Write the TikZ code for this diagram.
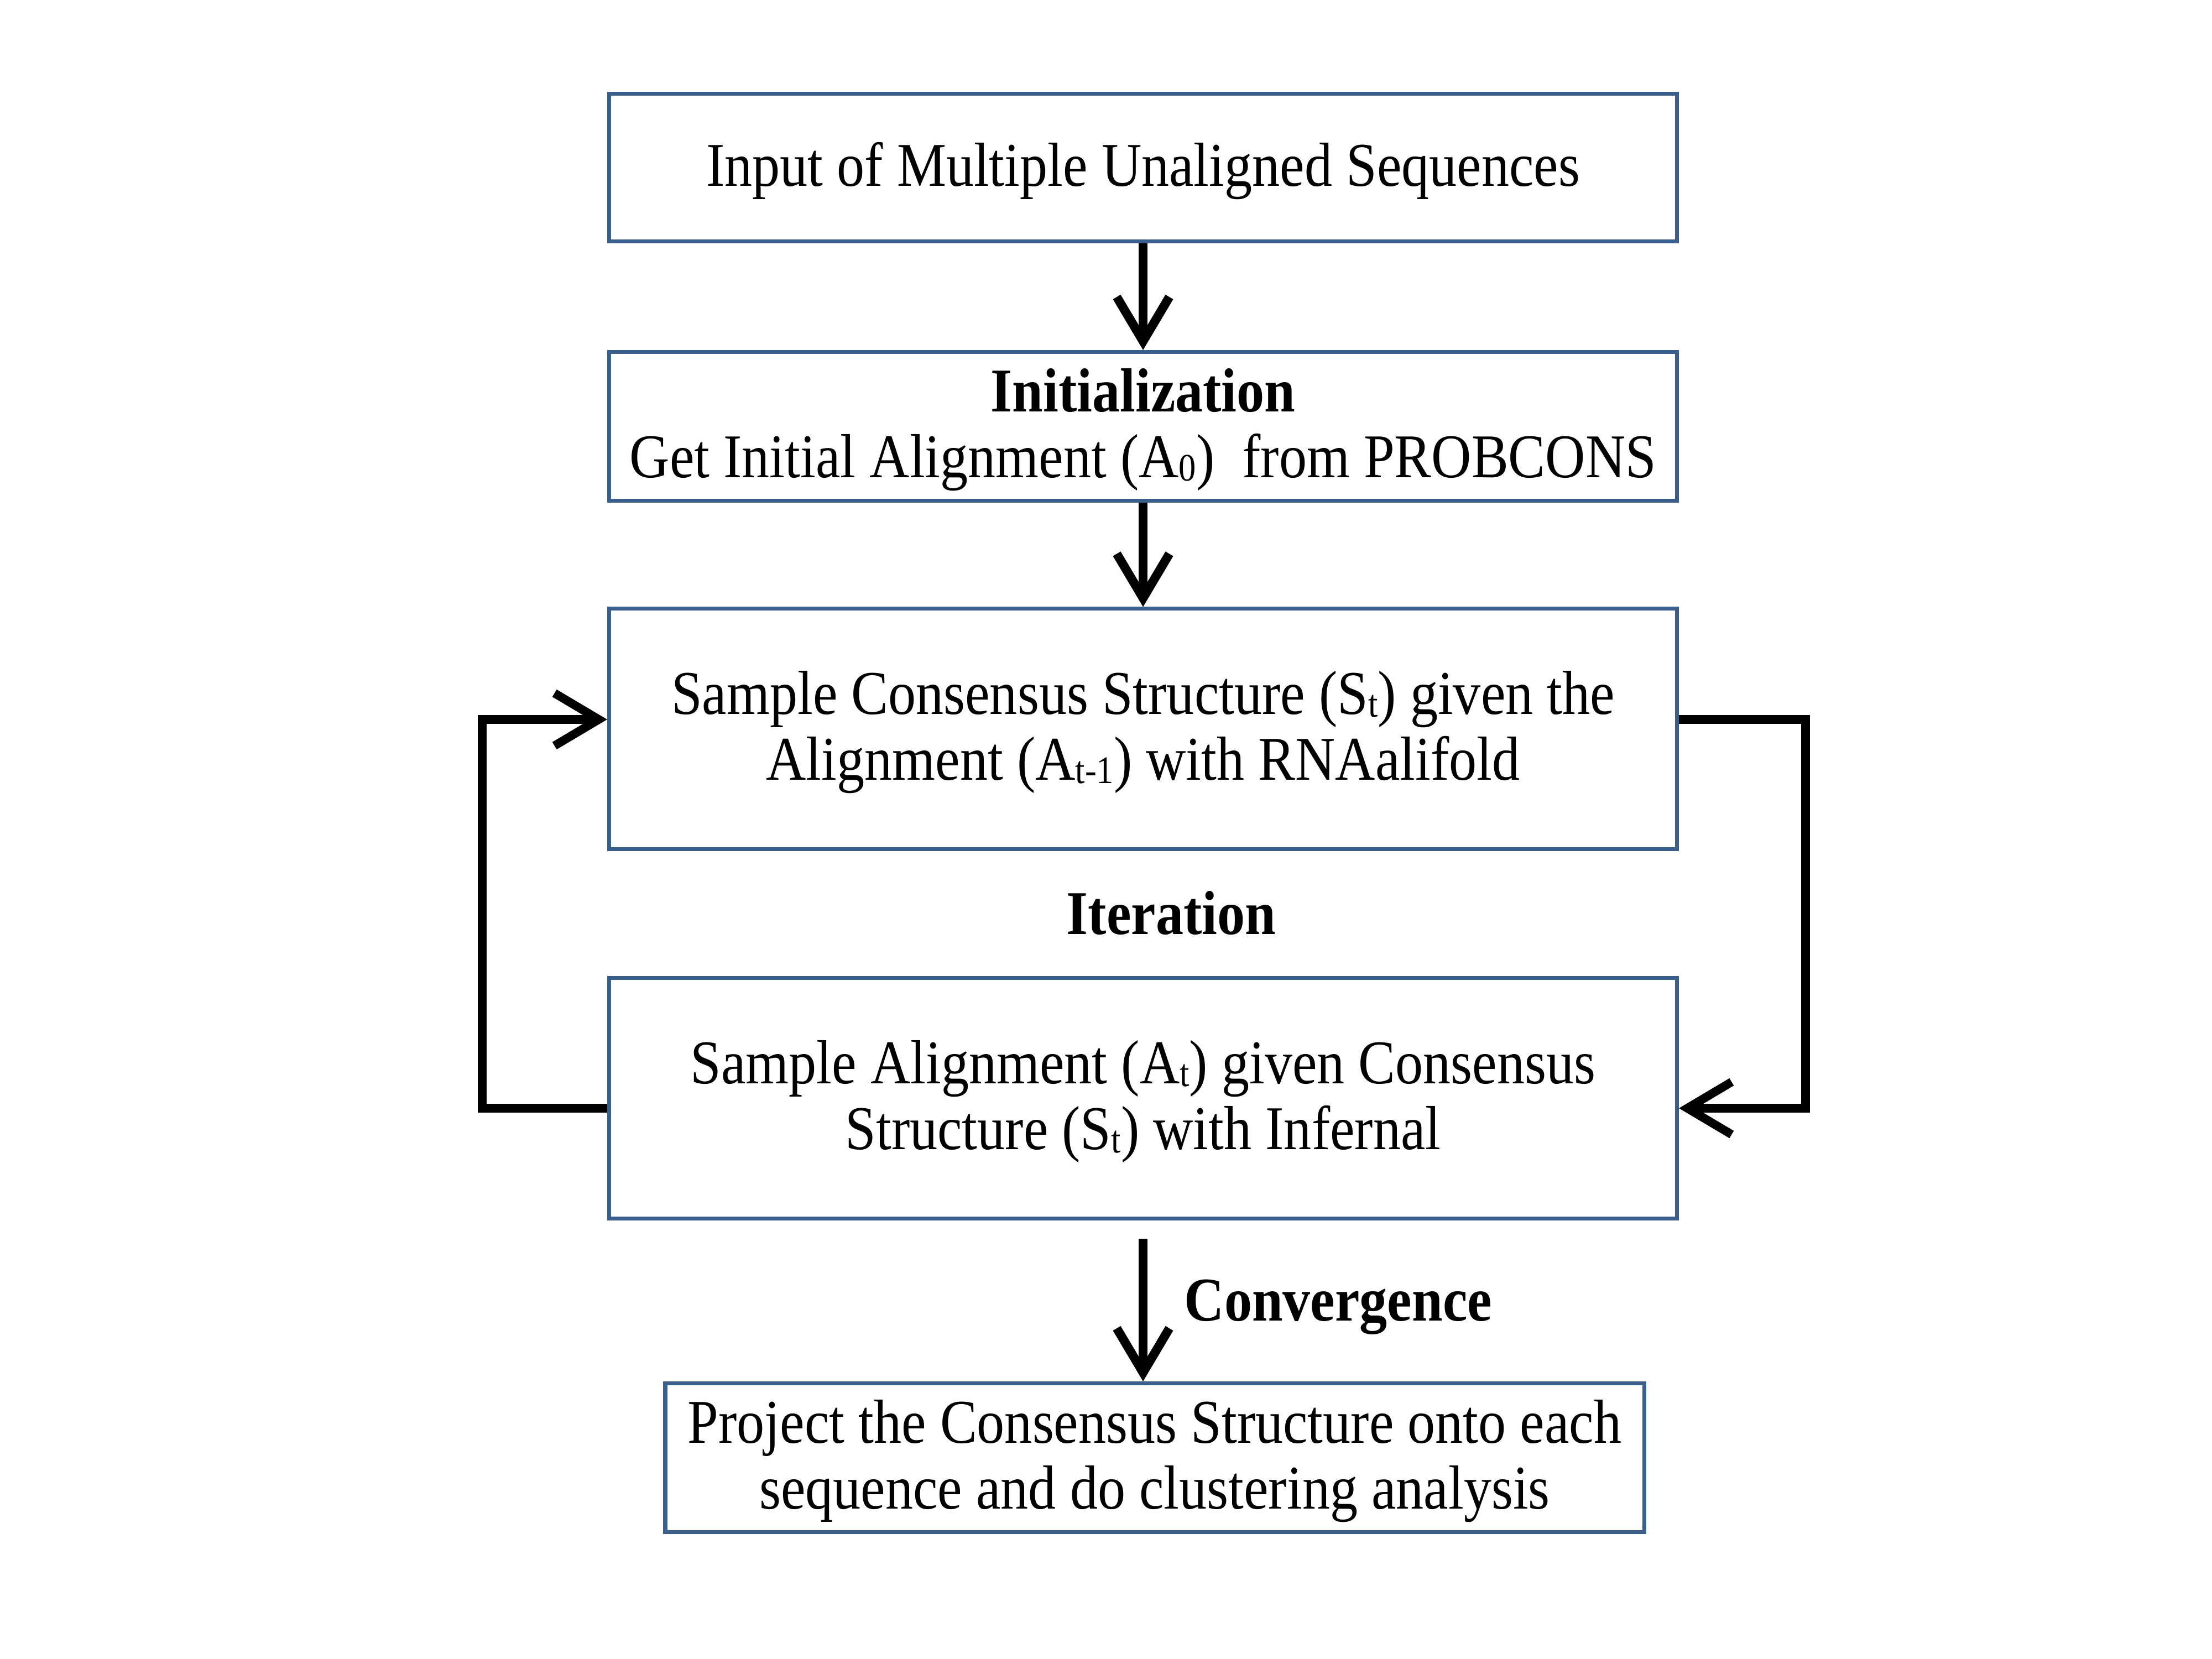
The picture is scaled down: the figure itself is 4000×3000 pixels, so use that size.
\documentclass[tikz,border=0pt]{standalone}
\usepackage{fontspec}
\setmainfont{Liberation Serif}[FakeStretch=0.89]
\usetikzlibrary{arrows.meta}
\definecolor{boxline}{HTML}{3A5F8C}
\newcommand\lowsub[1]{\raisebox{-0.1ex}{\fontsize{20}{20}\selectfont #1}}
\newcommand\boxtext[1]{\raisebox{-2.6pt}[\height][\depth]{\begin{tabular}{@{}c@{}}#1\end{tabular}}}
\tikzset{
  stepbox/.style={draw=boxline, line width=2pt, fill=white, align=center,
    minimum width=19.3cm, inner sep=0pt,
    font=\fontsize{32}{34}\selectfont},
  flowarrow/.style={line width=4.6pt, -{Straight Barb[length=0.8cm,width=0.95cm,line width=4.6pt]}},
  looparrow/.style={line width=4.4pt, -{Straight Barb[length=0.8cm,width=0.95cm,line width=4.4pt]}},
  lbl/.style={font=\fontsize{32}{34}\selectfont\bfseries, inner sep=0pt}
}
\begin{document}
\begin{tikzpicture}[x=0.01cm,y=-0.01cm]
\useasboundingbox[fill=white] (0,0) rectangle (4000,3000);
\node[stepbox, minimum height=2.66cm] (b1) at (2067,303) {\boxtext{Input of Multiple Unaligned Sequences}};
\node[stepbox, minimum height=2.69cm] (b2) at (2067,771) {\boxtext{\textbf{Initialization}\\Get Initial Alignment (A\lowsub{0}) \ from PROBCONS}};
\node[stepbox, minimum height=4.34cm] (b3) at (2067,1318) {\boxtext{Sample Consensus Structure (S\lowsub{t}) given the\\Alignment (A\lowsub{t-1}) with RNAalifold}};
\node[stepbox, minimum height=4.34cm] (b4) at (2067,1986) {\boxtext{Sample Alignment (A\lowsub{t}) given Consensus\\Structure (S\lowsub{t}) with Infernal}};
\node[stepbox, minimum width=17.69cm, minimum height=2.69cm] (b5) at (2088,2636) {\boxtext{Project the Consensus Structure onto each\\sequence and do clustering analysis}};
\node[lbl] (iter) at (2118,1651) {Iteration};
\node[lbl, anchor=west] (conv) at (2141,2364) {Convergence};
\coordinate (C) at (2067,2240);
\coordinate (L1) at (872,2004);
\coordinate (L2) at (872,1301);
\coordinate (R1) at (3265,1301);
\coordinate (R2) at (3265,2004);
\draw[flowarrow] (b1.south) -- (b2.north);
\draw[flowarrow] (b2.south) -- (b3.north);
\draw[flowarrow] (C) -- (C |- b5.north);
\draw[looparrow] (b4.west |- L1) -- (L1) -- (L2) -- (b3.west |- L2);
\draw[looparrow] (b3.east |- R1) -- (R1) -- (R2) -- (b4.east |- R2);
\end{tikzpicture}
\end{document}
